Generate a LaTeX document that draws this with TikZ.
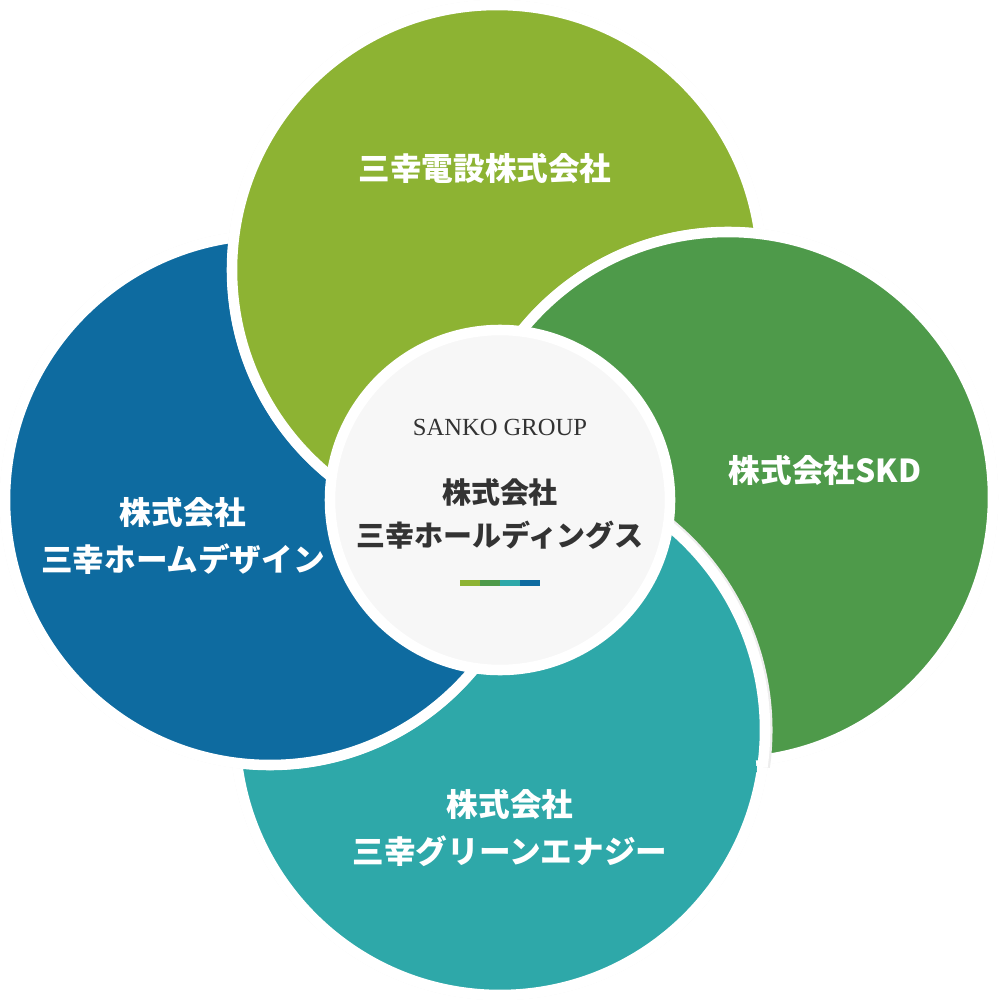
\documentclass[tikz,border=0pt]{standalone}
\usepackage{fontspec}
\newfontfamily\jp{Noto Sans CJK JP}
\setmainfont{Liberation Serif}
\definecolor{cgreen}{HTML}{8DB333}
\definecolor{cdark}{HTML}{4E9A4A}
\definecolor{cteal}{HTML}{2EA8A9}
\definecolor{cblue}{HTML}{0E6BA0}
\tikzset{
  halo/.style={fill=black!7},
  disk/.style={draw=white,line width=6},
  label/.style={text=white,font=\jp\bfseries\fontsize{18}{27}\selectfont,align=center},
}
\newcommand{\company}[2]{%
  \fill[halo] #1 circle (270);
  \fill[#2,disk] #1 circle (265);}
\begin{document}
\begin{tikzpicture}[x=0.02cm,y=-0.02cm]
  \useasboundingbox (0,0) rectangle (1000,1000);
  \coordinate (top) at (497,270);
  \coordinate (right) at (728,497);
  \coordinate (bottom) at (500,730);
  \coordinate (left) at (270,500);
  \company{(bottom)}{cteal}
  \company{(left)}{cblue}
  \company{(top)}{cgreen}
  \company{(right)}{cdark}
  % teal lies over the dark green disk
  \fill[cteal] (bottom) ++(-97.7:265) arc[start angle=-97.7,end angle=6.4,radius=265]
    arc[start angle=82.3,end angle=186.4,radius=265] -- cycle;
  \draw[cteal,line width=12] (right) ++(84:266) arc[start angle=84,end angle=186.4,radius=266];
  \draw[black!7,line width=4] (bottom) ++(-97.7:269) arc[start angle=-97.7,end angle=8,radius=269];
  \draw[white,line width=6] (bottom) ++(-97.7:265) arc[start angle=-97.7,end angle=8,radius=265];
  % centre
  \fill[halo] (500,500) circle (174);
  \fill[black!3,disk] (500,500) circle (170);
  \node[label] (n1) at (485,168) {三幸電設株式会社};
  \node[label] (n2) at (825,470) {株式会社SKD};
  \node[label] (n3) at (183,536) {株式会社\\三幸ホームデザイン};
  \node[label] (n4) at (510,828) {株式会社\\三幸グリーンエナジー};
  \node[font=\fontsize{14}{14}\selectfont,text=black!80] (group) at (500,427) {SANKO GROUP};
  \node[label,text=black!80,font=\jp\bfseries\fontsize{16.5}{25}\selectfont] (hold) at (500,514) {株式会社\\三幸ホールディングス};
  \foreach \c [count=\i] in {cgreen,cdark,cteal,cblue}
    \fill[\c] (440+\i*20,580) rectangle ++(20,6);
\end{tikzpicture}
\end{document}
